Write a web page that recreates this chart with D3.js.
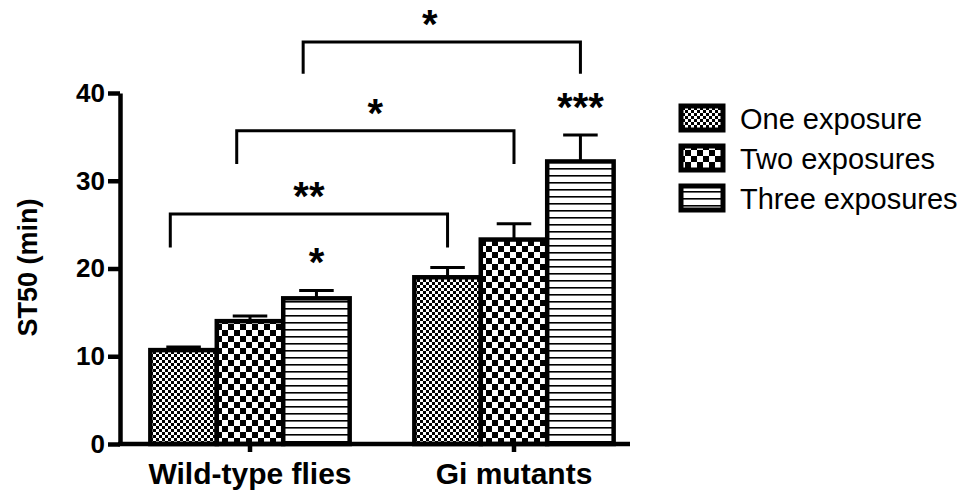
<!DOCTYPE html>
<html>
<head>
<meta charset="utf-8">
<script src="https://cdn.jsdelivr.net/npm/d3@7"></script>
<style>
  body { margin: 0; background: #fff; }
  svg { display: block; font-family: Arial, 'Liberation Sans', Helvetica, sans-serif; }
</style>
</head>
<body>
<div class="chart-container"></div>
<script>
const groups = ['Wild-type flies', 'Gi mutants']
const series = ['One exposure', 'Two exposures', 'Three exposures']
const wildTypeMeans = [10.7, 14.0, 16.6]
const wildTypeSem = [0.35, 0.6, 0.9]
const giMeans = [19.0, 23.3, 32.2]
const giSem = [1.1, 1.8, 3.0]
const yTicks = [0, 10, 20, 30, 40]

// significance marks above single bars
const barStars = [
  { group: 'Wild-type flies', series: 'Three exposures', label: '*' },
  { group: 'Gi mutants', series: 'Three exposures', label: '***' },
]
// brackets between groups: left end sits a bit left of bar centre
const brackets = [
  { series: 'One exposure', top: 26.2, drop: 3.8, label: '**' },
  { series: 'Two exposures', top: 35.7, drop: 3.8, label: '*' },
  { series: 'Three exposures', top: 45.8, drop: 3.6, label: '*' },
]

const width = 965
const height = 494

const rows = []
groups.forEach((g, gi) => {
  const means = gi === 0 ? wildTypeMeans : giMeans
  const sems = gi === 0 ? wildTypeSem : giSem
  series.forEach((s, si) => {
    rows.push({ group: g, series: s, mean: means[si], sem: sems[si] })
  })
})

const svg = d3
  .select('.chart-container')
  .append('svg')
  .attr('width', width)
  .attr('height', height)

// fill patterns
const defs = svg.append('defs')
const patternIds = ['pat-one', 'pat-two', 'pat-three']

const p1 = defs.append('pattern').attr('id', 'pat-one')
  .attr('patternUnits', 'userSpaceOnUse').attr('width', 6).attr('height', 6)
p1.append('rect').attr('width', 6).attr('height', 6).attr('fill', '#fff')
p1.append('rect').attr('width', 3).attr('height', 3).attr('fill', '#000')
p1.append('rect').attr('x', 3).attr('y', 3).attr('width', 3).attr('height', 3).attr('fill', '#000')

const p2 = defs.append('pattern').attr('id', 'pat-two')
  .attr('patternUnits', 'userSpaceOnUse').attr('width', 12).attr('height', 12)
p2.append('rect').attr('width', 12).attr('height', 12).attr('fill', '#fff')
p2.append('rect').attr('width', 6).attr('height', 6).attr('fill', '#000')
p2.append('rect').attr('x', 6).attr('y', 6).attr('width', 6).attr('height', 6).attr('fill', '#000')

const p3 = defs.append('pattern').attr('id', 'pat-three')
  .attr('patternUnits', 'userSpaceOnUse').attr('width', 7).attr('height', 7)
p3.append('rect').attr('width', 7).attr('height', 7).attr('fill', '#fff')
p3.append('rect').attr('y', 0).attr('width', 7).attr('height', 1.6).attr('fill', '#000')

const x0 = d3.scaleBand().domain(groups).range([120, 644]).paddingInner(0.245).paddingOuter(0.115)
const x1 = d3.scaleBand().domain(series).range([0, x0.bandwidth()])
const y = d3.scaleLinear().domain([0, 40]).range([444, 93])
const fillOf = d3.scaleOrdinal().domain(series).range(patternIds.map((id) => `url(#${id})`))

const barX = (g, s) => x0(g) + x1(s)
const barMid = (g, s) => barX(g, s) + x1.bandwidth() / 2

// error bars (upper only, lower is hidden behind bar)
const capHalf = x1.bandwidth() * 0.26
const err = svg.append('g').attr('stroke', '#000').attr('stroke-width', 3)
err.selectAll('line.stem').data(rows).enter().append('line')
  .attr('x1', (d) => barMid(d.group, d.series)).attr('x2', (d) => barMid(d.group, d.series))
  .attr('y1', (d) => y(d.mean)).attr('y2', (d) => y(d.mean + d.sem))
err.selectAll('line.cap').data(rows).enter().append('line')
  .attr('x1', (d) => barMid(d.group, d.series) - capHalf)
  .attr('x2', (d) => barMid(d.group, d.series) + capHalf)
  .attr('y1', (d) => y(d.mean + d.sem)).attr('y2', (d) => y(d.mean + d.sem))

// bars
svg.append('g').selectAll('rect').data(rows).enter().append('rect')
  .attr('x', (d) => barX(d.group, d.series))
  .attr('y', (d) => y(d.mean))
  .attr('width', x1.bandwidth())
  .attr('height', (d) => y(0) - y(d.mean))
  .attr('fill', (d) => fillOf(d.series))
  .attr('stroke', '#000')
  .attr('stroke-width', 4.5)

// y axis
const yAxis = svg.append('g').attr('transform', 'translate(120,0)')
  .call(d3.axisLeft(y).tickValues(yTicks).tickSize(12).tickSizeOuter(0).tickPadding(3))
yAxis.select('.domain').attr('stroke-width', 4.5)
yAxis.selectAll('.tick line').attr('stroke-width', 4.5)
yAxis.selectAll('.tick text').attr('font-size', 26).attr('font-weight', 'bold')
  .attr('font-family', 'Arial, Liberation Sans, sans-serif').attr('fill', '#000')

// x axis
const xAxis = svg.append('g').attr('transform', `translate(0,${y(0)})`)
  .call(d3.axisBottom(x0).tickSize(8).tickSizeOuter(0).tickPadding(11))
xAxis.select('.domain').attr('stroke-width', 4.5).attr('d', 'M118,0H630')
xAxis.selectAll('.tick line').attr('stroke-width', 4.5)
xAxis.selectAll('.tick text').attr('font-size', 30).attr('font-weight', 'bold')
  .attr('font-family', 'Arial, Liberation Sans, sans-serif').attr('fill', '#000')

// y label
svg.append('text')
  .attr('transform', `translate(37,${(y(0) + y(40)) / 2 - 1}) rotate(-90)`)
  .attr('text-anchor', 'middle')
  .attr('font-size', 27).attr('font-weight', 'bold')
  .text('ST50 (min)')

// stars over bars
svg.append('g').selectAll('text').data(barStars).enter().append('text')
  .attr('x', (d) => barMid(d.group, d.series))
  .attr('y', (d) => {
    const r = rows.find((o) => o.group === d.group && o.series === d.series)
    return y(r.mean + r.sem) - 14
  })
  .attr('text-anchor', 'middle')
  .attr('font-size', 40).attr('font-weight', 'bold')
  .text((d) => d.label)

// brackets
const br = svg.append('g')
brackets.forEach((b, i) => {
  const left = x0(groups[0]) + x1(b.series) + x1.bandwidth() * 0.3
  const right = barMid(groups[1], b.series)
  br.append('path')
    .attr('d', `M${left},${y(b.top - b.drop)}V${y(b.top)}H${right}V${y(b.top - b.drop)}`)
    .attr('fill', 'none').attr('stroke', '#000').attr('stroke-width', 3)
  br.append('text')
    .attr('x', (left + right) / 2 - (i === 2 ? 12 : 0))
    .attr('y', y(b.top) - 4)
    .attr('text-anchor', 'middle')
    .attr('font-size', 40).attr('font-weight', 'bold')
    .text(b.label)
})

// legend
const legend = svg.append('g').attr('transform', 'translate(679,104)')
const item = legend.selectAll('g').data(series).enter().append('g')
  .attr('transform', (d, i) => `translate(0,${i * 40})`)
item.append('rect').attr('x', 2).attr('y', 2).attr('width', 42).attr('height', 24)
  .attr('fill', (d) => fillOf(d)).attr('stroke', '#000').attr('stroke-width', 5)
item.append('text').attr('x', 61).attr('y', 15).attr('dy', '0.35em')
  .attr('font-size', 29).text((d) => d)
</script>
</body>
</html>
